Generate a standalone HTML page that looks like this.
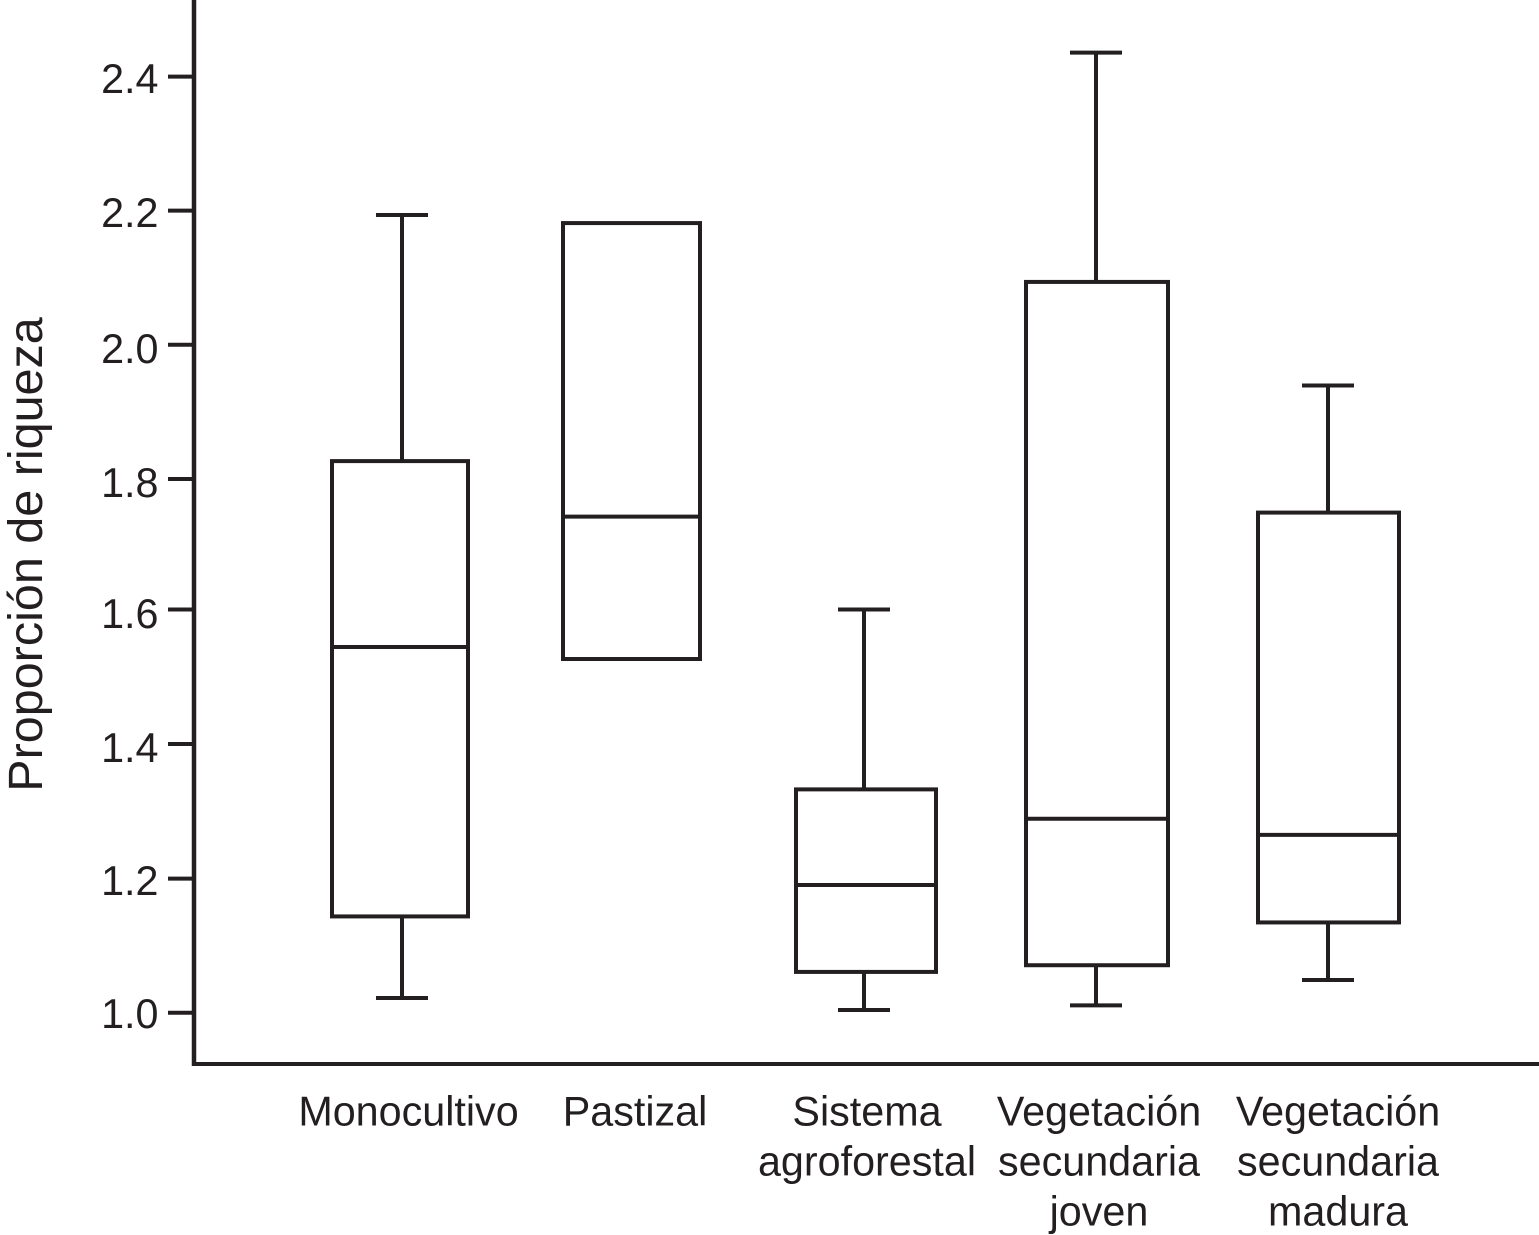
<!DOCTYPE html>
<html lang="es">
<head>
<meta charset="utf-8">
<title>Proporción de riqueza</title>
<style>
  html, body { margin: 0; padding: 0; background: #fff; }
  body { width: 1539px; height: 1235px; overflow: hidden; }
  svg { display: block; }
  text { font-family: "Liberation Sans", Arial, sans-serif; font-size: 41.3px; fill: #231f20; }
</style>
</head>
<body>
<svg id="chart" xmlns="http://www.w3.org/2000/svg" width="1539" height="1235" viewBox="0 0 1539 1235">
  <rect width="1539" height="1235" fill="#ffffff"/>
  <text transform="translate(42 554.5) rotate(-90)" text-anchor="middle" style="font-size:48.5px">Proporción de riqueza</text>
</svg>
<script>
const categories = [
  ["Monocultivo"],
  ["Pastizal"],
  ["Sistema", "agroforestal"],
  ["Vegetación", "secundaria", "joven"],
  ["Vegetación", "secundaria", "madura"]
];
const categoryKeys = ["monocultivo", "pastizal", "sistema-agroforestal", "vegetacion-joven", "vegetacion-madura"];
const whiskerHigh = [2.193, null, 1.603, 2.436, 1.938];
const q3Values = [1.825, 2.181, 1.334, 2.093, 1.748];
const medians = [1.547, 1.742, 1.191, 1.290, 1.266];
const q1Values = [1.144, 1.529, 1.061, 1.071, 1.135];
const whiskerLow = [1.022, null, 1.004, 1.011, 1.049];
const yTicks = [1.0, 1.2, 1.4, 1.6, 1.8, 2.0, 2.2, 2.4];

const INK = "#231f20";
const SW = 4;
const svg = document.getElementById("chart");
const NS = "http://www.w3.org/2000/svg";

// Axis functions
function yScale(v) { return 1012.7 - (v - 1) * 668.6; }
function xScale(i) { return 400 + i * 232; }

// Small per-position layout corrections (not data)
function boxCentre(i) { return xScale(i) + [0, -0.5, 2, 1, 0.5][i]; }
function boxWidth(i) { return [136, 137, 140, 142, 141][i]; }
function whiskerCentre(i) { return xScale(i) + [2, 0, 0, 0, 0][i]; }
function labelCentre(i) { return xScale(i) + [8.5, 3, 3, 3, 10][i]; }
function tickShift(k) { return [0, -0.3, -1.3, -2, 1.2, 0.6, 0.3, 0][k]; }
function tickLabelBaseline(k) { return [15.3, 16, 16.7, 16.5, 19.2, 18.9, 16.6, 16.3][k]; }

function make(tag, attrs) {
  const el = document.createElementNS(NS, tag);
  for (const k in attrs) el.setAttribute(k, attrs[k]);
  return el;
}
function line(x1, y1, x2, y2) {
  return make("line", { x1: x1, y1: y1, x2: x2, y2: y2, stroke: INK, "stroke-width": SW, fill: "none" });
}

// Axes
const yAxis = line(194, 0, 194, 1066);
yAxis.setAttribute("stroke-width", "4.5");


svg.appendChild(yAxis);

const xAxis = line(192, 1064, 1539, 1064);


svg.appendChild(xAxis);

// Y ticks and labels
yTicks.forEach(function (t, k) {
  const y = yScale(t);
  const tick = line(168, y + tickShift(k), 194, y + tickShift(k));
  
  
  svg.appendChild(tick);

  const label = make("text", { x: 158.5, y: y + tickLabelBaseline(k), "text-anchor": "end" });
  label.textContent = t.toFixed(1);
  
  
  svg.appendChild(label);
});

// Boxes, whiskers, medians
const CAP_HALF = 26;
categories.forEach(function (lines, i) {
  const key = categoryKeys[i];
  const g = make("g", {});
  
  
  svg.appendChild(g);

  const bc = boxCentre(i);
  const bw = boxWidth(i);
  const wc = whiskerCentre(i);

  if (whiskerHigh[i] !== null) {
    const top = line(wc, yScale(q3Values[i]), wc, yScale(whiskerHigh[i]));
    
    
    g.appendChild(top);

    const topCap = line(wc - CAP_HALF, yScale(whiskerHigh[i]), wc + CAP_HALF, yScale(whiskerHigh[i]));
    
    
    g.appendChild(topCap);
  }
  if (whiskerLow[i] !== null) {
    const bottom = line(wc, yScale(q1Values[i]), wc, yScale(whiskerLow[i]));
    
    
    g.appendChild(bottom);

    const bottomCap = line(wc - CAP_HALF, yScale(whiskerLow[i]), wc + CAP_HALF, yScale(whiskerLow[i]));
    
    
    g.appendChild(bottomCap);
  }

  const box = make("rect", {
    x: bc - bw / 2,
    y: yScale(q3Values[i]),
    width: bw,
    height: yScale(q1Values[i]) - yScale(q3Values[i]),
    fill: "#ffffff",
    stroke: INK,
    "stroke-width": SW
  });
  
  
  g.appendChild(box);

  const med = line(bc - bw / 2, yScale(medians[i]), bc + bw / 2, yScale(medians[i]));
  
  
  g.appendChild(med);

  const label = make("text", { "text-anchor": "middle" });
  
  
  lines.forEach(function (txt, j) {
    const ts = make("tspan", { x: labelCentre(i), y: 1125.5 + j * 50 });
    ts.textContent = txt;
    label.appendChild(ts);
  });
  svg.appendChild(label);
});
</script>
</body>
</html>
